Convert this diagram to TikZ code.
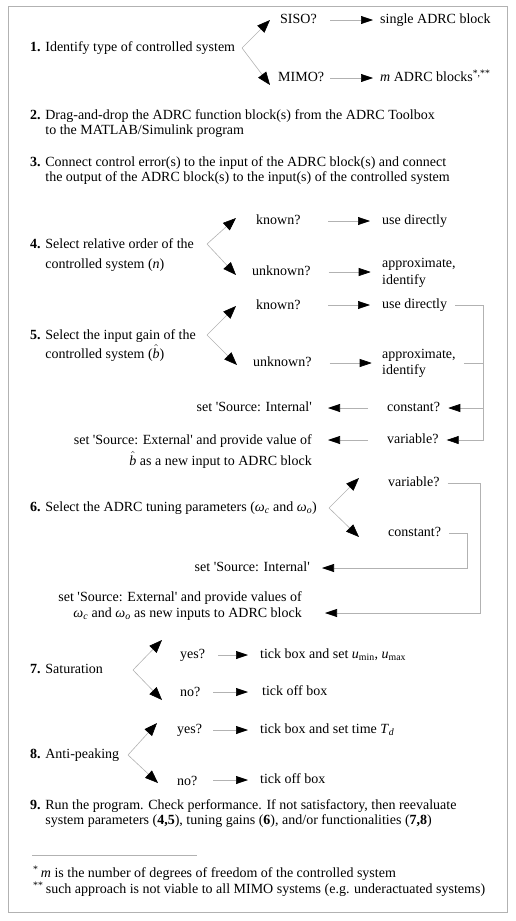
\documentclass[tikz,border=0pt]{standalone}
\usepackage{fontspec}
\setmainfont{Liberation Serif}
\usetikzlibrary{arrows.meta}
\tikzset{
  lbl/.style={inner sep=0pt,anchor=west,text height=10pt,text depth=3pt},
  blk/.style={inner sep=0pt,anchor=north west,align=left,font=\fontsize{14}{#1}\selectfont},
  blkr/.style={blk=#1,anchor=north east,align=right},
  ln/.style={draw=gray!60,line width=0.6pt},
  ar/.style={ln,-{Triangle[length=12pt,width=8pt,color=black]}},
  br/.style={ln,-{Triangle[length=13pt,width=10pt,color=black]}}
}

\begin{document}
\begin{tikzpicture}[x=1pt,y=-1pt,every node/.style={font=\fontsize{14}{17}\selectfont}]
\useasboundingbox (0,0) rectangle (515,921);
\draw[gray!60,line width=0.8pt] (8,6) rectangle (507,912);
% 1
\node[lbl](s1) at (30,48) {\textbf{1.} Identify type of controlled system};
\node[lbl](siso) at (280,20) {SISO?};
\node[lbl](mimo) at (278,78) {MIMO?};
\node[lbl](single) at (380,20) {single ADRC block};
\node[lbl](mblk) at (380,78) {\textit{m} ADRC blocks\textsuperscript{*,**}};
\coordinate (v1) at (242,48);
\draw[br](v1)--([xshift=-10pt]siso.west);
\draw[br](v1)--([xshift=-8pt,yshift=-7pt]mimo.west);
\draw[ar]([xshift=-50pt]single.west)--([xshift=-7pt]single.west);
\draw[ar]([xshift=-50pt]mblk.west)--([xshift=-7pt]mblk.west);
% 2, 3
\node[blk=15.5](s2) at (30,109) {\textbf{2.} Drag-and-drop the ADRC function block(s) from the ADRC Toolbox\\\hphantom{\textbf{2.} }to the MATLAB/Simulink program};
\node[blk=15.5](s3) at (30,156) {\textbf{3.} Connect control error(s) to the input of the ADRC block(s) and connect\\\hphantom{\textbf{3.} }the output of the ADRC block(s) to the input(s) of the controlled system};
% 4
\node[blk=20](s4) at (30,238) {\textbf{4.} Select relative order of the\\\hphantom{\textbf{4.} }controlled system (\textit{n})};
\node[lbl](kn4) at (256,221) {known?};
\node[lbl](un4) at (252,272) {unknown?};
\node[lbl](ud4) at (382,221) {use directly};
\node[blk=17](ap4) at (382,258) {approximate,\\identify};
\coordinate (v4) at (207,244);
\draw[br](v4)--([xshift=-20pt,yshift=3pt]kn4.west);
\draw[br](v4)--([xshift=-16pt,yshift=-3pt]un4.west);
\draw[ar]([xshift=-54pt]ud4.west)--([xshift=-12pt]ud4.west);
\draw[ar]([xshift=18pt]un4.east)--([xshift=60pt]un4.east);
% 5
\node[blk=19](s5) at (30,329) {\textbf{5.} Select the input gain of the\\\hphantom{\textbf{5.} }controlled system ($\hat{\mbox{\itshape b}}$)};
\node[lbl](kn5) at (256,306) {known?};
\node[lbl](un5) at (253,363) {unknown?};
\node[lbl](ud5) at (382,305) {use directly};
\node[blk=16](ap5) at (382,349) {approximate,\\identify};
\coordinate (v5) at (207,335);
\draw[br](v5)--([xshift=-20pt]kn5.west);
\draw[br](v5)--([xshift=-16pt,yshift=-2pt]un5.west);
\draw[ar]([xshift=-54pt]ud5.west)--([xshift=-12pt]ud5.west);
\draw[ar]([xshift=18pt]un5.east)--([xshift=60pt]un5.east);
\node[lbl](cst5) at (387,408) {constant?};
\node[lbl](var5) at (387,440) {variable?};
\node[lbl,anchor=east](int5) at (312,408) {set \textquotesingle Source: Internal\textquotesingle};
\node[blkr=21](ext5) at (312,434) {set \textquotesingle Source: External\textquotesingle\ and provide value of\\$\hat{\mbox{\itshape b}}$ as a new input to ADRC block};
\coordinate (j5) at (483,408);
\draw[ln]([xshift=8pt]ud5.east)-|(j5);
\draw[ln]([xshift=8pt]ap5.east)--(ap5.east-|j5);
\draw[ar](j5)--([xshift=8pt]cst5.east);
\draw[ar](j5)|-([xshift=8pt]var5.east);
\draw[ar]([xshift=-19pt]cst5.west)--([xshift=-59pt]cst5.west);
\draw[ar]([xshift=-19pt]var5.west)--([xshift=-59pt]var5.west);
% 6
\node[lbl](s6) at (30,508) {\textbf{6.} Select the ADRC tuning parameters (\textit{ω}\textsubscript{\textit{c}} and \textit{ω}\textsubscript{\textit{o}})};
\node[lbl](var6) at (388,483) {variable?};
\node[lbl](cst6) at (388,533) {constant?};
\node[lbl,anchor=east](int6) at (310,568) {set \textquotesingle Source: Internal\textquotesingle};
\node[blkr=16](ext6) at (302,591) {set \textquotesingle Source: External\textquotesingle\ and provide values of\\\textit{ω}\textsubscript{\textit{c}} and \textit{ω}\textsubscript{\textit{o}} as new inputs to ADRC block};
\coordinate (v6) at (329,508);
\draw[br](v6)--([xshift=-29pt,yshift=5pt]var6.west);
\draw[br](v6)--([xshift=-29pt,yshift=-4pt]cst6.west);
\coordinate (j6) at (467,568);
\coordinate (k6) at (480,613);
\draw[ar,shorten >=12pt]([xshift=8pt]cst6.east)-|(j6)--(j6-|int6.east);
\draw[ar,shorten >=23pt]([xshift=8pt]var6.east)-|(k6)--(k6-|ext6.east);
% 7
\node[lbl](s7) at (30,670) {\textbf{7.} Saturation};
\node[lbl](yes7) at (180,655) {yes?};
\node[lbl](no7) at (180,693) {no?};
\node[lbl](t7) at (260,655) {tick box and set \textit{u}\textsubscript{min}, \textit{u}\textsubscript{max}};
\node[lbl](off7) at (262,692) {tick off box};
\coordinate (v7) at (133,670);
\draw[br](v7)--([xshift=-18pt,yshift=15pt]yes7.west);
\draw[br](v7)--([xshift=-18pt,yshift=-7pt]no7.west);
\draw[ar]([xshift=-42pt]t7.west)--([xshift=-12pt]t7.west);
\draw[ar]([xshift=-49pt]off7.west)--([xshift=-14pt]off7.west);
% 8
\node[lbl](s8) at (30,755) {\textbf{8.} Anti-peaking};
\node[lbl](yes8) at (177,730) {yes?};
\node[lbl](no8) at (177,782) {no?};
\node[lbl](t8) at (260,730) {tick box and set time \textit{T}\textsubscript{\textit{d}}};
\node[lbl](off8) at (260,780) {tick off box};
\coordinate (v8) at (128,755);
\draw[br](v8)--([xshift=-20pt,yshift=7pt]yes8.west);
\draw[br](v8)--([xshift=-19pt,yshift=-1pt]no8.west);
\draw[ar]([xshift=-47pt]t8.west)--([xshift=-12pt]t8.west);
\draw[ar]([xshift=-47pt]off8.west)--([xshift=-12pt]off8.west);
% 9 and notes
\node[blk=15.5](s9) at (30,799) {\textbf{9.} Run the program. Check performance. If not satisfactory, then reevaluate\\\hphantom{\textbf{9.} }system parameters (\textbf{4,5}), tuning gains (\textbf{6}), and/or functionalities (\textbf{7,8})};
\draw[ln](32,855)--(197,855);
\node[blk=15.5](fn) at (33,866) {\textsuperscript{*}\,\textit{m} is the number of degrees of freedom of the controlled system\\\textsuperscript{**}\,such approach is not viable to all MIMO systems (e.g. underactuated systems)};
\end{tikzpicture}
\end{document}
